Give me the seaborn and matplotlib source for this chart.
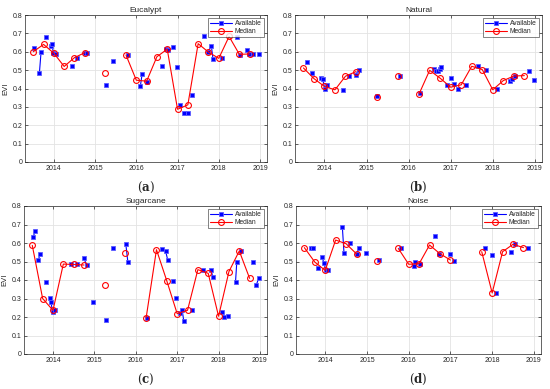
import numpy as np
import pandas as pd
import matplotlib
matplotlib.use('Agg')
import matplotlib.pyplot as plt
from matplotlib.lines import Line2D
import seaborn as sns

nan = np.nan

# ── data ────────────────────────────────────────────────────────────
quarters = [2013.5, 2013.75, 2014.0, 2014.25, 2014.5, 2014.75, 2015.0, 2015.25,
            2015.5, 2015.75, 2016.0, 2016.25, 2016.5, 2016.75, 2017.0, 2017.25,
            2017.5, 2017.75, 2018.0, 2018.25, 2018.5, 2018.75]

euc_median = [0.600, 0.640, 0.592, 0.520, 0.568, 0.595, nan, 0.486, nan, 0.582, 0.445,
              0.440, 0.573, 0.614, 0.287, 0.311, 0.644, 0.598, 0.564, 0.683, 0.586, 0.588]
nat_median = [0.512, 0.454, 0.411, 0.393, 0.467, 0.492, nan, 0.355, nan, 0.467, nan,
              0.371, 0.499, 0.456, 0.407, 0.420, 0.521, 0.503, 0.393, 0.443, 0.468, 0.470]
sug_median = [0.587, 0.300, 0.236, 0.486, 0.484, 0.481, nan, 0.373, nan, 0.544, nan,
              0.195, 0.564, 0.395, 0.218, 0.236, 0.456, 0.436, 0.204, 0.445, 0.557, 0.409]
noi_median = [0.575, 0.497, 0.452, 0.616, 0.596, 0.541, nan, 0.505, nan, 0.571, 0.485,
              0.488, 0.589, 0.542, 0.508, nan, nan, 0.553, 0.330, 0.553, 0.593, 0.575]

# available observations, grouped in runs of consecutive acquisitions
euc_avail = [
    [(2013.52, .623)], [(2013.65, .486), (2013.69, .600)], [(2013.82, .679)],
    [(2013.92, .631), (2013.95, .641), (2013.99, .595), (2014.04, .586)],
    [(2014.44, .523)], [(2014.57, .568)], [(2014.76, .595), (2014.81, .595)],
    [(2015.27, .420)], [(2015.44, .551)], [(2015.80, .582)],
    [(2016.10, .416), (2016.14, .477)], [(2016.27, .437)], [(2016.63, .523)],
    [(2016.72, .614), (2016.76, .610)], [(2016.90, .628)], [(2016.99, .515)],
    [(2017.07, .311)], [(2017.16, .268), (2017.26, .264)], [(2017.34, .364)],
    [(2017.63, .683)], [(2017.73, .598), (2017.82, .632), (2017.86, .560)],
    [(2018.09, .564)], [(2018.44, .681)], [(2018.52, .584)],
    [(2018.69, .609), (2018.73, .587), (2018.84, .587)], [(2018.97, .590)],
]
nat_avail = [
    [(2013.58, .542)], [(2013.71, .483)],
    [(2013.92, .459), (2013.96, .449), (2014.01, .396), (2014.06, .420)],
    [(2014.44, .393)], [(2014.58, .467)], [(2014.75, .476), (2014.81, .503)],
    [(2015.26, .357)], [(2015.80, .468)], [(2016.28, .373)],
    [(2016.60, .506), (2016.65, .495), (2016.71, .497), (2016.74, .505), (2016.78, .515)],
    [(2016.91, .418)], [(2017.00, .456)], [(2017.09, .422)], [(2017.17, .396)],
    [(2017.36, .420)], [(2017.65, .521)], [(2017.84, .503)], [(2018.09, .396)],
    [(2018.41, .441), (2018.45, .449)], [(2018.52, .467)], [(2018.85, .494)],
    [(2018.98, .447)],
]
sug_avail = [
    [(2013.52, .631), (2013.57, .665)], [(2013.64, .506), (2013.69, .538)],
    [(2013.82, .391)], [(2013.92, .301), (2013.95, .283), (2013.99, .227), (2014.04, .240)],
    [(2014.44, .486)], [(2014.57, .484)], [(2014.75, .517), (2014.81, .481)],
    [(2014.96, .279)], [(2015.27, .182)], [(2015.45, .571)],
    [(2015.76, .593), (2015.81, .495)], [(2016.28, .195)],
    [(2016.63, .569), (2016.72, .557), (2016.77, .510)], [(2016.90, .395)],
    [(2016.98, .301)], [(2017.07, .220), (2017.12, .240), (2017.16, .177)],
    [(2017.35, .236)], [(2017.63, .456)], [(2017.82, .456), (2017.86, .414)],
    [(2018.08, .229), (2018.13, .202)], [(2018.23, .204)],
    [(2018.41, .391), (2018.44, .497)], [(2018.54, .557)], [(2018.84, .497)],
    [(2018.91, .373), (2018.97, .409)],
]
noi_avail = [
    [(2013.66, .571), (2013.70, .575)], [(2013.83, .465)],
    [(2013.92, .523), (2013.97, .494), (2014.01, .455), (2014.06, .455)],
    [(2014.41, .688), (2014.45, .546)], [(2014.59, .598)],
    [(2014.75, .541), (2014.81, .573)], [(2014.98, .544)], [(2015.28, .510)],
    [(2015.82, .571)], [(2016.13, .474), (2016.16, .495)], [(2016.27, .488)],
    [(2016.63, .636)], [(2016.72, .542)], [(2017.00, .540)], [(2017.09, .505)],
    [(2017.83, .571)], [(2018.00, .537)], [(2018.09, .331)], [(2018.45, .553)],
    [(2018.54, .593)], [(2018.85, .575)],
]

panels = [
    ('Eucalypt', euc_avail, euc_median, '(a)'),
    ('Natural', nat_avail, nat_median, '(b)'),
    ('Sugarcane', sug_avail, sug_median, '(c)'),
    ('Noise', noi_avail, noi_median, '(d)'),
]

# axes boxes in figure pixels: left, top, right, bottom
boxes = [(25, 15, 267, 162), (295, 15, 542, 162),
         (24, 206, 267, 354), (296, 206, 541, 354)]

W, H = 550, 389


def avail_frame(runs):
    rows = [(x, y, i) for i, run in enumerate(runs) for x, y in run]
    return pd.DataFrame(rows, columns=['year', 'evi', 'seg'])


def median_frame(vals):
    v = np.array(vals, dtype=float)
    seg = np.cumsum(np.isnan(v))
    df = pd.DataFrame({'year': quarters, 'evi': v, 'seg': seg})
    return df.dropna()


sns.set_theme(style='ticks')
plt.rcParams['font.family'] = ['Liberation Sans', 'DejaVu Sans']
plt.rcParams['mathtext.fontset'] = 'dejavuserif'

fig = plt.figure(figsize=(W / 100, H / 100), dpi=100)
fig.patch.set_facecolor('white')

for (title, runs, med, tag), (l, t, r, b) in zip(panels, boxes):
    ax = fig.add_axes([l / W, 1 - b / H, (r - l) / W, (b - t) / H])
    ax.grid(True, color='#e3e3e3', lw=0.6)
    ax.set_axisbelow(True)

    sns.lineplot(data=avail_frame(runs), x='year', y='evi', units='seg',
                 estimator=None, color='#0000ff', lw=0.8, marker='s', ms=3.2,
                 mec='#5a5aff', mew=0.6, legend=False, ax=ax, zorder=3)
    sns.lineplot(data=median_frame(med), x='year', y='evi', units='seg',
                 estimator=None, color='#ff0000', lw=0.8, marker='o', ms=4.2,
                 mfc='none', mec='#ff0000', mew=0.8, legend=False, ax=ax, zorder=4)

    ax.set_xlim(2013.3, 2019.17)
    ax.set_ylim(0, 0.8)
    ax.set_xticks([2014, 2015, 2016, 2017, 2018, 2019])
    ax.set_xticklabels(['2014', '2015', '2016', '2017', '2018', '2019'])
    ax.set_yticks([0, 0.1, 0.2, 0.3, 0.4, 0.5, 0.6, 0.7, 0.8])
    ax.set_yticklabels(['0', '0.1', '0.2', '0.3', '0.4', '0.5', '0.6', '0.7', '0.8'])
    ax.tick_params(direction='in', length=2, width=0.5, labelsize=5, pad=2,
                   colors='#262626', top=True, right=True)
    for sp in ax.spines.values():
        sp.set_visible(True)
        sp.set_linewidth(0.5)
        sp.set_edgecolor('#262626')
    ax.set_xlabel('')
    ax.set_ylabel('EVI', fontsize=5.5, labelpad=2)
    ax.set_title(title, fontsize=6, pad=2)

    handles = [
        Line2D([], [], color='#0000ff', lw=0.8, marker='s', ms=3.2,
               mec='#5a5aff', mew=0.6),
        Line2D([], [], color='#ff0000', lw=0.8, marker='o', ms=4.2,
               mfc='none', mew=0.8),
    ]
    leg = ax.legend(handles, ['Available', 'Median'], loc='upper right',
                    fontsize=4.8, frameon=True, fancybox=False, handlelength=3.2,
                    borderpad=0.3, labelspacing=0.15, handletextpad=0.5,
                    borderaxespad=0.5)
    leg.get_frame().set_edgecolor('#262626')
    leg.get_frame().set_linewidth(0.5)

    fig.text((l + r) / 2 / W, 1 - (b + 25) / H, r'($\mathbf{' + tag[1] + '}$)',
             ha='center', va='center', fontsize=8.5, family='DejaVu Serif')

fig.savefig('out.png', dpi=100, facecolor='white')
plt.close(fig)
